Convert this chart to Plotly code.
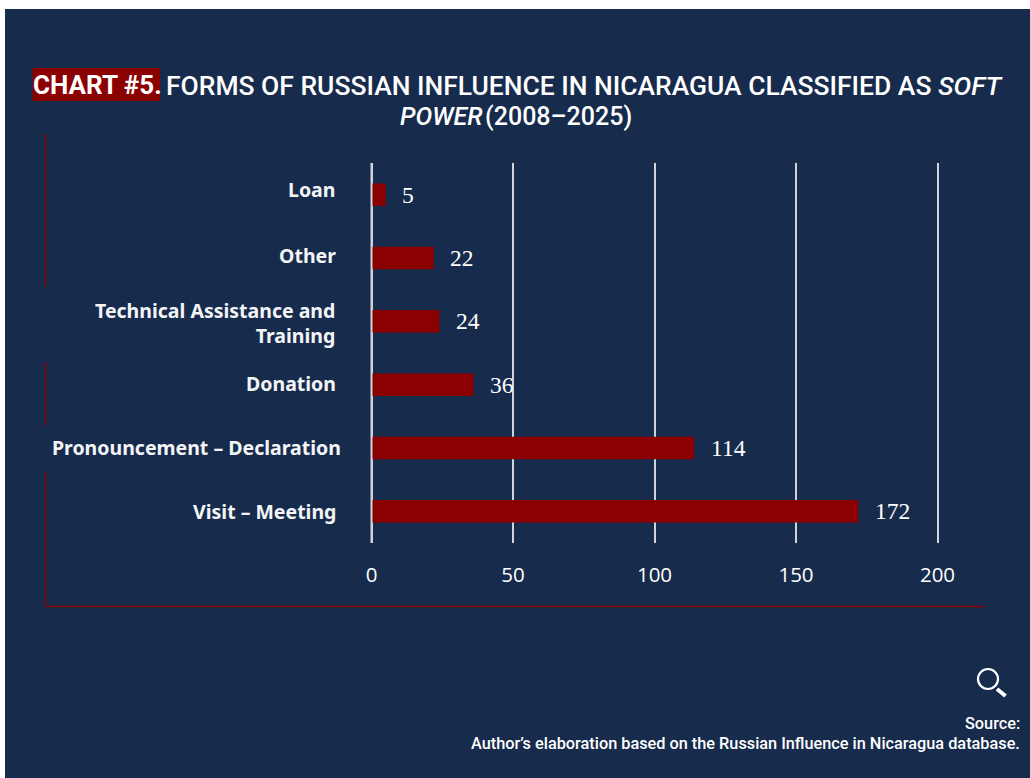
import plotly.graph_objects as go

W, H = 1030, 778

# Counts per form of influence, listed top to bottom
categories = ["Loan", "Other", "Technical Assistance and<br>Training", "Donation",
              "Pronouncement – Declaration", "Visit – Meeting"]
values = [5, 22, 24, 36, 114, 172]
x_ticks = [0, 50, 100, 150, 200]

NAVY = "#172B4D"
RED = "#8B0000"
GRID = "#D0D3D8"
WHITE = "#FFFFFF"

# Pixel extent of the value axis between 0 and 200
X_ZERO, X_MAX = 371.5, 937.5
X_PAD = 0.5  # range padding in data units keeps the gridlines at both ends visible
PX_PER_UNIT = (X_MAX - X_ZERO) / (x_ticks[-1] - x_ticks[0])


def px(x):
    return x / W


def py(y):
    return 1 - y / H


def rect(x0, y0, x1, y1, color):
    return dict(type="rect", xref="paper", yref="paper", layer="below",
                x0=px(x0), x1=px(x1), y0=py(y0), y1=py(y1),
                fillcolor=color, line_width=0)


def rule(x0, y0, x1, y1, width=1.4):
    return dict(type="line", xref="paper", yref="paper", layer="below",
                x0=px(x0), x1=px(x1), y0=py(y0), y1=py(y1),
                line=dict(color=RED, width=width))


fig = go.Figure(go.Bar(
    x=values, y=categories, orientation="h", width=0.355,
    marker=dict(color=RED, line_width=0), hoverinfo="x+y",
))

shapes = [
    rect(5, 9, W, H, NAVY),
    rect(32.5, 68, 160, 101, RED),
    # Frame rules on the left and along the bottom
    rule(45.5, 134, 45.5, 287),
    rule(45.5, 362, 45.5, 425),
    rule(45.5, 472, 45.5, 606.5),
    rule(45.5, 606.5, 985, 606.5, 1.5),
    # The zero line stays visible over the start of the bars
    dict(type="line", xref="x", yref="y domain", layer="above",
         x0=0, x1=0, y0=0, y1=1, line=dict(color=GRID, width=2)),
    # Magnifying glass
    dict(type="circle", xref="paper", yref="paper", layer="above",
         x0=px(978), x1=px(998), y0=py(669), y1=py(689),
         line=dict(color=WHITE, width=2.2)),
    dict(type="line", xref="paper", yref="paper", layer="above",
         x0=px(997), y0=py(689), x1=px(1005.5), y1=py(696),
         line=dict(color=WHITE, width=4)),
]

annotations = []


def text(x, y, s, size, family, anchor="center", weight=None, color=WHITE):
    annotations.append(dict(
        xref="paper", yref="paper", x=px(x), y=py(y), text=s, showarrow=False,
        xanchor=anchor, yanchor="middle", align="right" if anchor == "right" else "center",
        font=dict(size=size, family=family, color=color, weight=weight),
    ))


TITLE_FONT = "Roboto, sans-serif"
text(31, 85, "<b>CHART #5.</b>", 26, TITLE_FONT, anchor="left")
text(164, 85, "FORMS OF RUSSIAN INFLUENCE IN NICARAGUA CLASSIFIED AS <i>SOFT</i>",
     26.45, TITLE_FONT, anchor="left", weight=500)
text(516, 117, "<i>POWER</i>\u200a(2008–2025)", 25, TITLE_FONT, weight=500)

# Category labels sit slightly off their bars, so each carries its own offset
label_right = [337, 338, 337, 337.5, 343, 338]
label_offset = [-5, -3, 1.5, -1, -1, 0]
for cat, right, dy in zip(categories, label_right, label_offset):
    annotations.append(dict(
        xref="paper", yref="y", x=px(right), y=cat, yshift=-dy, text=cat, showarrow=False,
        xanchor="right", yanchor="middle", align="right",
        font=dict(size=19.5, family="Noto Sans, sans-serif", color="#F4F5F7", weight=700),
    ))

# Value labels to the right of each bar
for cat, val in zip(categories, values):
    annotations.append(dict(
        xref="x", yref="y", x=val, y=cat, xshift=14.5, yshift=0, text=str(val), showarrow=False,
        xanchor="left", yanchor="middle",
        font=dict(size=23.5, family="Liberation Serif, serif", color=WHITE),
    ))

text(1021.5, 723, "Source:", 16.3, "Roboto, sans-serif", anchor="right", weight=500)
text(1021.5, 743.5, "Author’s elaboration based on the Russian Influence in Nicaragua database.",
     16.3, "Roboto, sans-serif", anchor="right", weight=500)

fig.update_layout(
    template="none",
    width=W, height=H, margin=dict(l=0, r=0, t=0, b=0, autoexpand=False),
    paper_bgcolor=WHITE, plot_bgcolor="rgba(0,0,0,0)",
    showlegend=False, shapes=shapes, annotations=annotations, bargap=0.6,
    xaxis=dict(
        domain=[px(X_ZERO - X_PAD * PX_PER_UNIT), px(X_MAX + X_PAD * PX_PER_UNIT)],
        range=[x_ticks[0] - X_PAD, x_ticks[-1] + X_PAD], tickvals=x_ticks,
        showgrid=True, gridcolor=GRID, gridwidth=2, zeroline=False,
        ticks="", ticklabelstandoff=17, showline=False, automargin=False,
        tickfont=dict(size=20.5, family="Open Sans, sans-serif", color=WHITE),
    ),
    yaxis=dict(
        domain=[py(543), py(163)], range=[5.5, -0.5], type="category",
        categoryorder="array", categoryarray=categories, automargin=False,
        showticklabels=False, ticks="", showgrid=False, zeroline=False,
        showline=False,
    ),
)

fig.write_html("out.html")
